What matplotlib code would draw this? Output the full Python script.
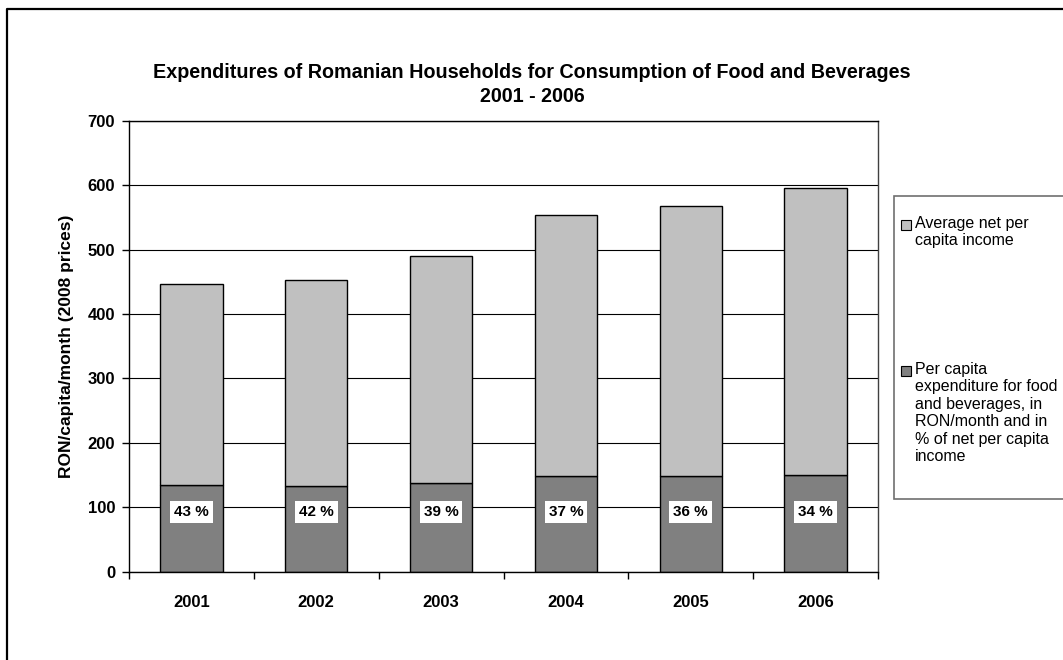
import matplotlib
matplotlib.use("Agg")
import matplotlib.pyplot as plt
from matplotlib.patches import Rectangle
from matplotlib.lines import Line2D

plt.rcParams['font.family'] = ['Liberation Sans', 'DejaVu Sans']

years = ["2001", "2002", "2003", "2004", "2005", "2006"]
# RON/capita/month, 2008 prices
food_expenditure = [134, 133, 137, 149, 149, 150]
net_income = [313, 320, 353, 405, 419, 446]

income_label = "Average net per\ncapita income"
food_label = ("Per capita\nexpenditure for food\nand beverages, in\n"
              "RON/month and in\n% of net per capita\nincome")

W, H = 1063, 660
fig = plt.figure(figsize=(W / 100, H / 100), dpi=100)


def fx(px):
    return px / W


def fy(py):
    return 1 - py / H


# outer chart frame
fig.add_artist(Line2D([fx(7), fx(7), fx(1070)], [fy(700), fy(9), fy(9)],
                      color="black", lw=1.6, transform=fig.transFigure))

ax = fig.add_axes([fx(129), fy(571.5), fx(878) - fx(129), fy(121) - fy(571.5)])

x = range(len(years))
light = "#C0C0C0"
dark = "#808080"
ax.bar(x, food_expenditure, width=0.5, color=dark, edgecolor="black", lw=1, zorder=2)
ax.bar(x, net_income, width=0.5, bottom=food_expenditure, color=light,
       edgecolor="black", lw=1, zorder=2)

for i, (e, inc) in enumerate(zip(food_expenditure, net_income)):
    pct = round(100 * e / inc)
    ax.text(i, 92, f"{pct} %", ha="center", va="center", fontsize=11,
            fontweight="bold", zorder=3,
            bbox=dict(boxstyle="square,pad=0.26", fc="white", ec="none"))

ax.set_xlim(-0.5, len(years) - 0.5)
ax.set_ylim(0, 700)
ax.set_yticks(range(0, 701, 100))
ax.set_xticks(list(x))
ax.set_xticklabels(years, fontsize=12, fontweight="bold")
ax.set_xticks([i - 0.5 for i in range(len(years) + 1)], minor=True)
ax.tick_params(axis="x", which="major", length=0, pad=17)
ax.tick_params(axis="x", which="minor", length=5, direction="out", width=1)
ax.tick_params(axis="y", length=5, direction="out", width=1, pad=5, labelsize=12)
for lbl in ax.get_yticklabels():
    lbl.set_fontweight("bold")

ax.yaxis.grid(True, color="black", lw=0.8)
ax.set_axisbelow(True)
for side in ["left", "bottom", "top"]:
    ax.spines[side].set_color("black")
    ax.spines[side].set_linewidth(1)
ax.spines["right"].set_color("#404040")
ax.spines["right"].set_linewidth(1)

ax.set_ylabel("RON/capita/month (2008 prices)", fontsize=12.5, fontweight="bold",
              labelpad=10)

fig.text(fx(532), fy(72), "Expenditures of Romanian Households for Consumption of Food and Beverages",
         ha="center", va="center", fontsize=14.2, fontweight="bold")
fig.text(fx(532), fy(97), "2001 - 2006", ha="center", va="center",
         fontsize=14.2, fontweight="bold")

# legend box
fig.add_artist(Rectangle((fx(894), fy(499)), fx(1075) - fx(894), fy(196) - fy(499),
                         transform=fig.transFigure, fc="white", ec="#707070", lw=1.2))
for label, color, top in [(income_label, light, 216), (food_label, dark, 362)]:
    fig.add_artist(Rectangle((fx(901), fy(top + 14)), fx(10), fy(0) - fy(10),
                             transform=fig.transFigure, fc=color, ec="black", lw=0.8))
    fig.text(fx(915), fy(top), label, ha="left", va="top", fontsize=11.5,
             linespacing=1.2)

fig.savefig("out.png", dpi=100)
